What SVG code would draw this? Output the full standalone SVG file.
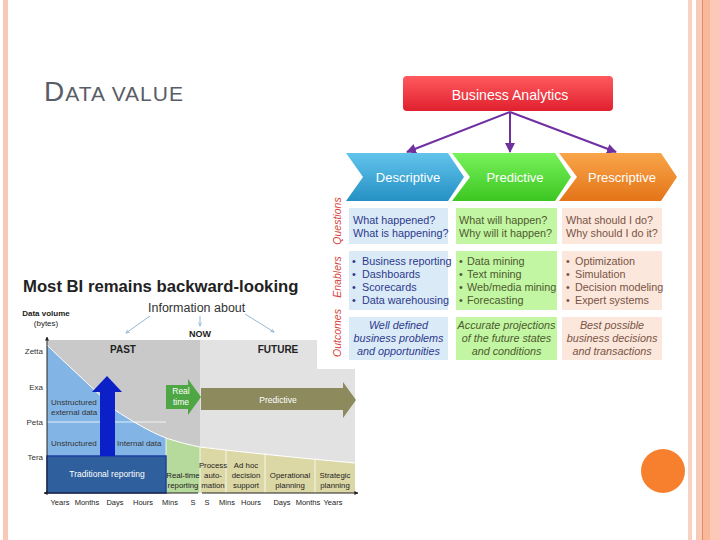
<svg xmlns="http://www.w3.org/2000/svg" width="720" height="540" viewBox="0 0 720 540">
<defs>
<linearGradient id="gRed" x1="0" y1="0" x2="0" y2="1"><stop offset="0" stop-color="#ff5a5e"/><stop offset="1" stop-color="#e0202e"/></linearGradient>
<linearGradient id="gBlue" x1="0" y1="0" x2="0" y2="1"><stop offset="0" stop-color="#62c4ec"/><stop offset="1" stop-color="#2590c4"/></linearGradient>
<linearGradient id="gGreen" x1="0" y1="0" x2="0" y2="1"><stop offset="0" stop-color="#78f25a"/><stop offset="1" stop-color="#3cc622"/></linearGradient>
<linearGradient id="gOrange" x1="0" y1="0" x2="0" y2="1"><stop offset="0" stop-color="#f9a54a"/><stop offset="1" stop-color="#e47418"/></linearGradient>
<marker id="mPurple" viewBox="0 0 10 10" refX="9" refY="5" markerWidth="5" markerHeight="5" orient="auto"><path d="M0,0 L10,5 L0,10 z" fill="#7030a0"/></marker>
<marker id="mLight" viewBox="0 0 10 10" refX="9" refY="5" markerWidth="5" markerHeight="5" orient="auto"><path d="M0,1 L10,5 L0,9" fill="none" stroke="#7ea6cc" stroke-width="1.5"/></marker>
<marker id="mAxis" viewBox="0 0 10 10" refX="9" refY="5" markerWidth="4" markerHeight="4" orient="auto"><path d="M0,0 L10,5 L0,10 z" fill="#222"/></marker>
<style>
text{font-family:"Liberation Sans",Arial,sans-serif}
.chev{font-size:13px;fill:#fff;text-anchor:middle}
.q1{font-size:10.8px;fill:#2b3a8c}
.q2{font-size:10.8px;fill:#4d5a2e}
.q3{font-size:10.8px;fill:#7a5444}
.oc{font-style:italic;text-anchor:middle}
.rl{font-size:10.5px;font-style:italic;fill:#d8403a;text-anchor:middle}
.ct{font-size:8px;fill:#333}
.cw{font-size:8.5px;fill:#fff}
.ax{font-size:7.5px;fill:#222;text-anchor:middle}
.sec{font-size:7.8px;fill:#222;text-anchor:middle}
</style>
</defs>
<rect width="720" height="540" fill="#fff"/>
<g id="borders">
<rect x="3" y="0" width="5" height="540" fill="#f8c9b5"/>
<rect x="688" y="0" width="4" height="540" fill="#f7d2c2"/>
<rect x="696" y="0" width="6" height="540" fill="#f8cbb8"/>
<rect x="702" y="0" width="1" height="540" fill="#e08c66"/>
<rect x="703" y="0" width="7" height="540" fill="#fab89a"/>
<rect x="710" y="0" width="10" height="540" fill="#fcc9b9"/>
</g>
<g id="title"><text x="44" y="101" fill="#595d65" letter-spacing="1"><tspan font-size="28">D</tspan><tspan font-size="21">ATA VALUE</tspan></text></g>

<g id="chart">
<text x="23" y="292" font-size="16.7" font-weight="bold" fill="#222">Most BI remains backward-looking</text>
<text x="148" y="312" font-size="12.5" fill="#333">Information about</text>
<text x="46" y="316" font-size="8" font-weight="bold" fill="#222" text-anchor="middle">Data volume</text>
<text x="46" y="326" font-size="8" fill="#222" text-anchor="middle">(bytes)</text>
<g fill="none" stroke="#7ea6cc" stroke-width="0.8">
<line x1="150" y1="316" x2="126" y2="333" marker-end="url(#mLight)"/>
<line x1="200" y1="316" x2="200" y2="326" marker-end="url(#mLight)"/>
<line x1="245" y1="314" x2="274" y2="332" marker-end="url(#mLight)"/>
</g>
<text x="200" y="337" font-size="9" font-weight="bold" fill="#222" text-anchor="middle">NOW</text>
<rect x="47" y="340" width="153" height="153" fill="#c9c9c9"/>
<rect x="200" y="340" width="155" height="153" fill="#e2e2e2"/>
<path d="M47,345 C65,363 88,383 115,410 C130,420 150,432 166,438 L166,456 L47,456 Z" fill="#82b5e5"/>
<path d="M166,438 C178,442 190,445 200,447 L200,493 L166,493 Z" fill="#b6d99c"/>
<path d="M200,447 C240,452 300,458 355,463 L355,493 L200,493 Z" fill="#dcd8a6"/>
<path d="M47,345 C65,363 88,383 115,410 C130,420 150,432 166,438 C178,442 190,445 200,447 C240,452 300,458 355,463" fill="none" stroke="#fff" stroke-width="1"/>
<line x1="47" y1="422" x2="166" y2="422" stroke="#fff" stroke-width="0.8"/>
<g stroke="#fff" stroke-width="0.8"><line x1="166" y1="438" x2="166" y2="493"/><line x1="200" y1="447" x2="200" y2="493"/><line x1="226" y1="450" x2="226" y2="493"/><line x1="265" y1="453" x2="265" y2="493"/><line x1="315" y1="459" x2="315" y2="493"/></g>
<text x="123" y="353" font-size="10" font-weight="bold" fill="#222" text-anchor="middle">PAST</text>
<text x="278" y="353" font-size="10" font-weight="bold" fill="#222" text-anchor="middle">FUTURE</text>
<rect x="47" y="456" width="119" height="37" fill="#2f5f9d" stroke="#1c3fa0" stroke-width="1.5"/>
<text x="107" y="477" class="cw" text-anchor="middle" font-size="9">Traditional reporting</text>
<path d="M100,456 L100,392 L92,392 L107,376 L122,392 L115,392 L115,456 Z" fill="#0c20c8"/>
<text x="51" y="405" class="ct">Unstructured</text>
<text x="51" y="415" class="ct">external data</text>
<text x="51" y="446" class="ct">Unstructured</text>
<text x="117" y="446" class="ct">Internal data</text>
<path d="M166,385 L188,385 L188,379 L201,397 L188,415 L188,409 L166,409 Z" fill="#4ea644"/>
<text x="181" y="394" class="cw" text-anchor="middle" font-size="8">Real</text>
<text x="181" y="405" class="cw" text-anchor="middle" font-size="8">time</text>
<path d="M201,388 L343,388 L343,382 L356,400 L343,418 L343,410 L201,410 Z" fill="#8d8b5d"/>
<text x="278" y="403" class="cw" text-anchor="middle" font-size="8">Predictive</text>
<g class="sec">
<text x="183" y="478">Real-time</text><text x="183" y="488">reporting</text>
<text x="213" y="468">Process</text><text x="213" y="478">auto-</text><text x="213" y="488">mation</text>
<text x="246" y="468">Ad hoc</text><text x="246" y="478">decision</text><text x="246" y="488">support</text>
<text x="290" y="478">Operational</text><text x="290" y="488">planning</text>
<text x="335" y="478">Strategic</text><text x="335" y="488">planning</text>
</g>
<g class="ct" text-anchor="end" font-size="8">
<text x="43" y="354">Zetta</text><text x="43" y="390">Exa</text><text x="43" y="425">Peta</text><text x="43" y="460">Tera</text>
</g>
<line x1="47" y1="493" x2="47" y2="337" stroke="#222" stroke-width="1" marker-end="url(#mAxis)"/>
<line x1="198" y1="493" x2="44" y2="493" stroke="#222" stroke-width="1" marker-end="url(#mAxis)"/>
<line x1="202" y1="493" x2="358" y2="493" stroke="#222" stroke-width="1" marker-end="url(#mAxis)"/>
<g class="ax">
<text x="60" y="505">Years</text><text x="87" y="505">Months</text><text x="115" y="505">Days</text><text x="143" y="505">Hours</text><text x="170" y="505">Mins</text><text x="193" y="505">S</text>
<text x="207" y="505">S</text><text x="227" y="505">Mins</text><text x="251" y="505">Hours</text><text x="282" y="505">Days</text><text x="308" y="505">Months</text><text x="333" y="505">Years</text>
</g>
</g>

<rect x="317" y="320" width="46" height="49" fill="#fff"/>

<g id="connectors" stroke="#7030a0" stroke-width="2" fill="none">
<line x1="510" y1="112" x2="407" y2="152" marker-end="url(#mPurple)"/>
<line x1="510" y1="112" x2="510" y2="152" marker-end="url(#mPurple)"/>
<line x1="510" y1="112" x2="616" y2="152" marker-end="url(#mPurple)"/>
</g>
<g id="business-analytics">
<rect x="403" y="76" width="210" height="35" rx="4" fill="url(#gRed)"/>
<text x="510" y="100" font-size="14.1" fill="#fff" text-anchor="middle">Business Analytics</text>
</g>
<g id="descriptive"><path d="M346,153 L448,153 L464,177 L448,201 L346,201 L363,177 Z" fill="url(#gBlue)"/><text x="408" y="182" class="chev">Descriptive</text></g>
<g id="predictive"><path d="M452,153 L555,153 L571,177 L555,201 L452,201 L470,177 Z" fill="url(#gGreen)"/><text x="515" y="182" class="chev">Predictive</text></g>
<g id="prescriptive"><path d="M559,153 L661,153 L677,177 L661,201 L559,201 L577,177 Z" fill="url(#gOrange)"/><text x="622" y="182" class="chev">Prescriptive</text></g>

<g id="row-labels">
<text class="rl" transform="translate(341,221) rotate(-90)">Questions</text>
<text class="rl" transform="translate(341,277) rotate(-90)">Enablers</text>
<text class="rl" transform="translate(341,333) rotate(-90)">Outcomes</text>
</g>
<g id="questions">
<rect x="349" y="208" width="99" height="36" fill="#dbeaf7"/>
<rect x="456" y="208" width="101" height="36" fill="#c2f6a2"/>
<rect x="562" y="208" width="100" height="36" fill="#fbe7dc"/>
<text x="353" y="223.5" class="q1">What happened?</text><text x="353" y="236.5" class="q1">What is happening?</text>
<text x="459" y="223.5" class="q2">What will happen?</text><text x="459" y="236.5" class="q2">Why will it happen?</text>
<text x="566" y="223.5" class="q3">What should I do?</text><text x="566" y="236.5" class="q3">Why should I do it?</text>
</g>
<g id="enablers">
<rect x="349" y="251" width="99" height="59" fill="#dbeaf7"/>
<rect x="456" y="251" width="101" height="59" fill="#c2f6a2"/>
<rect x="562" y="251" width="100" height="59" fill="#fbe7dc"/>
<g class="q1"><text x="352" y="264.5">•</text><text x="352" y="277.5">•</text><text x="352" y="290.5">•</text><text x="352" y="303.5">•</text>
<text x="362" y="264.5">Business reporting</text><text x="362" y="277.5">Dashboards</text><text x="362" y="290.5">Scorecards</text><text x="362" y="303.5">Data warehousing</text></g>
<g class="q2"><text x="459" y="264.5">•</text><text x="459" y="277.5">•</text><text x="459" y="290.5">•</text><text x="459" y="303.5">•</text>
<text x="467" y="264.5">Data mining</text><text x="467" y="277.5">Text mining</text><text x="467" y="290.5">Web/media mining</text><text x="467" y="303.5">Forecasting</text></g>
<g class="q3"><text x="566" y="264.5">•</text><text x="566" y="277.5">•</text><text x="566" y="290.5">•</text><text x="566" y="303.5">•</text>
<text x="575" y="264.5">Optimization</text><text x="575" y="277.5">Simulation</text><text x="575" y="290.5">Decision modeling</text><text x="575" y="303.5">Expert systems</text></g>
</g>
<g id="outcomes">
<rect x="349" y="317" width="99" height="43" fill="#dbeaf7"/>
<rect x="456" y="317" width="101" height="43" fill="#c2f6a2"/>
<rect x="562" y="317" width="100" height="43" fill="#fbe7dc"/>
<g class="q1 oc"><text x="398.5" y="329">Well defined</text><text x="398.5" y="342">business problems</text><text x="398.5" y="355">and opportunities</text></g>
<g class="q2 oc"><text x="506.5" y="329">Accurate projections</text><text x="506.5" y="342">of the future states</text><text x="506.5" y="355">and conditions</text></g>
<g class="q3 oc"><text x="612" y="329">Best possible</text><text x="612" y="342">business decisions</text><text x="612" y="355">and transactions</text></g>
</g>
<g id="dot"><circle cx="663" cy="471" r="22" fill="#f7802f"/></g>
</svg>
